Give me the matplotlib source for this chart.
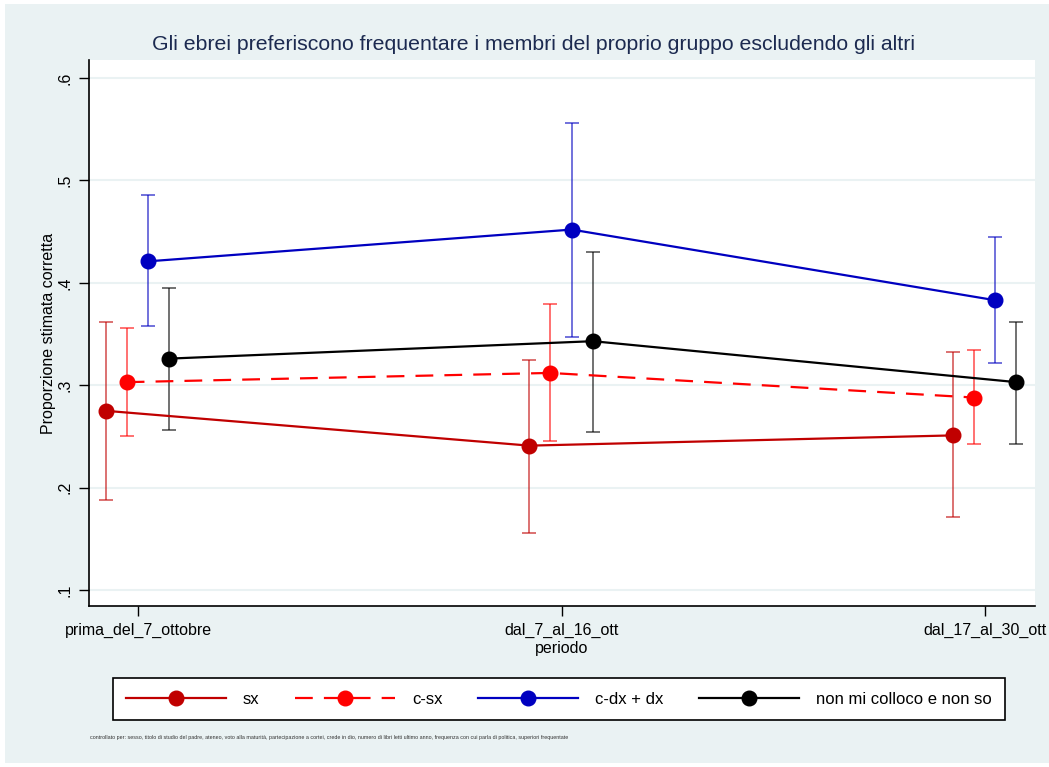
import numpy as np
import matplotlib.pyplot as plt
from matplotlib.patches import Rectangle

plt.rcParams['font.family'] = ['Liberation Sans', 'DejaVu Sans']

periodi = ["prima_del_7_ottobre", "dal_7_al_16_ott", "dal_17_al_30_ott"]
gruppi = ["sx", "c-sx", "c-dx + dx", "non mi colloco e non so"]

# stime e intervalli di confidenza
stime = {
    "sx":        [0.275, 0.241, 0.251],
    "c-sx":      [0.303, 0.312, 0.288],
    "c-dx + dx": [0.421, 0.452, 0.383],
    "non mi colloco e non so": [0.326, 0.343, 0.303],
}
ci_basso = {
    "sx":        [0.188, 0.156, 0.171],
    "c-sx":      [0.250, 0.246, 0.243],
    "c-dx + dx": [0.358, 0.347, 0.322],
    "non mi colloco e non so": [0.256, 0.254, 0.243],
}
ci_alto = {
    "sx":        [0.362, 0.325, 0.332],
    "c-sx":      [0.356, 0.379, 0.334],
    "c-dx + dx": [0.486, 0.556, 0.445],
    "non mi colloco e non so": [0.395, 0.430, 0.362],
}

colori = {"sx": "#C00000", "c-sx": "#FF0000", "c-dx + dx": "#0000C0",
          "non mi colloco e non so": "#000000"}
stili = {"sx": "-", "c-sx": (0, (8, 5)), "c-dx + dx": "-",
         "non mi colloco e non so": "-"}
offset = [-0.076, -0.027, 0.024, 0.074]

W, H = 1049, 767
fig = plt.figure(figsize=(W / 100, H / 100), dpi=100)
fig.patch.set_facecolor("white")
fig.patches.append(Rectangle((5 / W, 4 / H), 1 - 5 / W, 1 - 8 / H,
                             transform=fig.transFigure, facecolor="#EAF2F3",
                             edgecolor="none", zorder=-5))

ax = fig.add_axes([89 / W, 1 - 606 / H, (1035 - 89) / W, (606 - 60) / H])
ax.set_facecolor("white")

x = np.arange(1, 4)
for g, off in zip(gruppi, offset):
    xs = x + off
    y = np.array(stime[g])
    lo = np.array(ci_basso[g])
    hi = np.array(ci_alto[g])
    ax.errorbar(xs, y, yerr=[y - lo, hi - y], fmt="none", ecolor=colori[g],
                elinewidth=1.2, capsize=4.8, capthick=1.2, alpha=0.65, zorder=3)
    ax.plot(xs, y, color=colori[g], linestyle=stili[g], linewidth=1.6,
            marker="o", markersize=10.5, label=g, zorder=4)

ax.set_xlim(0.884, 3.118)
ax.set_ylim(0.0844, 0.6176)
ax.set_yticks([0.1, 0.2, 0.3, 0.4, 0.5, 0.6])
ax.set_yticklabels([".1", ".2", ".3", ".4", ".5", ".6"], rotation=90, va="center")
ax.set_xticks(x)
ax.set_xticklabels(periodi)
ax.grid(axis="y", color="#EAF2F3", linewidth=1.5, zorder=0)
ax.set_axisbelow(True)
for s in ["top", "right"]:
    ax.spines[s].set_visible(False)
for s in ["left", "bottom"]:
    ax.spines[s].set_linewidth(1.2)
ax.tick_params(direction="out", length=7, width=1, labelsize=11.5, pad=5)

ax.set_ylabel("Proporzione stimata corretta", fontsize=11.5, labelpad=1)
ax.set_xlabel("periodo", fontsize=11.5, labelpad=2)

fig.text(533 / W, 1 - 45 / H,
         "Gli ebrei preferiscono frequentare i membri del proprio gruppo escludendo gli altri",
         ha="center", va="center", fontsize=15.3, color="#1C2A50")

leg = fig.legend(loc="lower left", ncol=4, mode="expand",
                 bbox_to_anchor=(113 / W, 1 - 720 / H, (1005 - 113) / W, 48 / H),
                 fontsize=12, frameon=True, fancybox=False, handlelength=6.0,
                 handletextpad=1.0, borderpad=0.8, numpoints=1, borderaxespad=0,
                 framealpha=1)
leg.get_frame().set_edgecolor("black")
leg.get_frame().set_facecolor("white")
leg.get_frame().set_linewidth(1.2)

fig.text(90 / W, 1 - 738 / H,
         "controllato per: sesso, titolo di studio del padre, ateneo, voto alla maturità, "
         "partecipazione a cortei, crede in dio, numero di libri letti ultimo anno, "
         "frequenza con cui parla di politica, superiori frequentate",
         ha="left", va="center", fontsize=3.9, color="#333333")

fig.savefig("out.png", dpi=100)
